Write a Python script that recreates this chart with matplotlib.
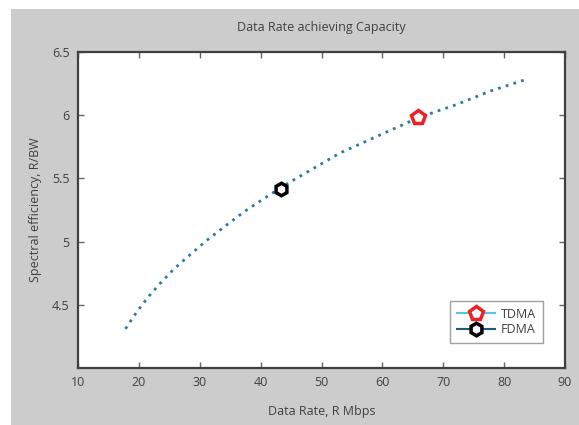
import matplotlib.pyplot as plt
from matplotlib.patches import Rectangle

# capacity curve
rate_mbps = [17.8, 19.6, 21.5, 23.5, 25.7, 27.8, 30.9, 34.1, 37.4, 41.8,
             44.8, 53.0, 61.3, 65.9, 72.2, 77.7, 83.4]
spec_eff = [4.31, 4.44, 4.56, 4.67, 4.78, 4.87, 5.00, 5.12, 5.24, 5.38,
            5.47, 5.70, 5.88, 5.98, 6.085, 6.19, 6.28]

# operating points
tdma_rate, tdma_eff = [65.9], [5.985]
fdma_rate, fdma_eff = [43.35], [5.416]

xticks = [10, 20, 30, 40, 50, 60, 70, 80, 90]
yticks = [4.5, 5, 5.5, 6, 6.5]
ytick_labels = ['4.5', '5', '5.5', '6', '6.5']

plt.rcParams['font.family'] = ['Open Sans', 'DejaVu Sans']
txt = '#404040'

fig = plt.figure(figsize=(5.79, 4.25), dpi=100, facecolor='white')
fig.add_artist(Rectangle((11 / 579, 0), 1, 416 / 425, transform=fig.transFigure,
                         facecolor='#cccccc', edgecolor='none', zorder=-10))

ax = fig.add_axes([78 / 579, 57 / 425, 487 / 579, 316 / 425])
ax.set_facecolor('white')

ax.plot(rate_mbps, spec_eff, color='#2b7b9b', lw=2, linestyle=(0, (1, 1.9)))
ax.plot(tdma_rate, tdma_eff, color='#5cc3ea', lw=1.5, marker='p', ms=10,
        mfc='white', mec='#ee2024', mew=2.5, label='TDMA')
ax.plot(fdma_rate, fdma_eff, color='#1c5f7c', lw=1.5, marker='h', ms=9,
        mfc='white', mec='black', mew=2.5, label='FDMA')

ax.set_xlim(10, 90)
ax.set_ylim(4, 6.5)
ax.set_xticks(xticks)
ax.set_yticks(yticks)
ax.set_yticklabels(ytick_labels)
ax.tick_params(direction='in', top=True, right=True, length=4, width=1,
               color='#666666', labelsize=9, labelcolor=txt, pad=6)
for s in ax.spines.values():
    s.set_color('#404040')
    s.set_linewidth(1.6)

ax.set_title('Data Rate achieving Capacity', fontsize=9, color=txt, pad=15)
ax.set_xlabel('Data Rate, R Mbps', fontsize=9, color=txt, labelpad=11)
ax.set_ylabel('Spectral efficiency, R/BW', fontsize=9, color=txt, labelpad=7)

leg = ax.legend(loc='lower right', bbox_to_anchor=(0.955, 0.079), fontsize=9,
                frameon=True, fancybox=False, edgecolor='#888888',
                handlelength=3, labelspacing=0.2, borderpad=0.55,
                handletextpad=0.5, borderaxespad=0)
for t in leg.get_texts():
    t.set_color(txt)

fig.savefig('out.png', dpi=100, facecolor='white')
